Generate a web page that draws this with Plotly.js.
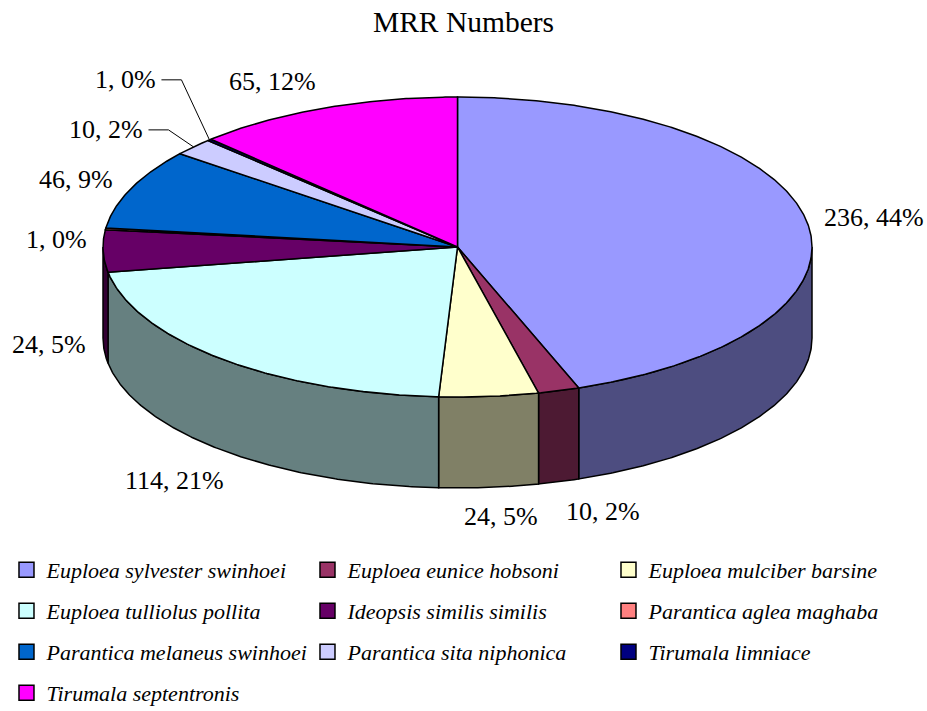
<!DOCTYPE html>
<html>
<head>
<meta charset="utf-8">
<script src="https://cdn.plot.ly/plotly-3.0.1.min.js"></script>
<style>html,body{margin:0;padding:0;background:#fff;}#chart{width:927px;height:711px;}</style>
</head>
<body>
<div id="chart"></div>
<script>
// ---- data ----
const categories = [
  'Euploea sylvester swinhoei',
  'Euploea eunice hobsoni',
  'Euploea mulciber barsine',
  'Euploea tulliolus pollita',
  'Ideopsis similis similis',
  'Parantica aglea maghaba',
  'Parantica melaneus swinhoei',
  'Parantica sita niphonica',
  'Tirumala limniace',
  'Tirumala septentronis'
];
const values = [236, 10, 24, 114, 24, 1, 46, 10, 1, 65];
const faceColors = ['#9999FF', '#993366', '#FFFFCC', '#CCFFFF', '#660066',
                    '#FF8080', '#0066CC', '#CCCCFF', '#000080', '#FF00FF'];
const chartTitle = 'MRR Numbers';

// ---- layout / geometry (not data) ----
const W = 927, H = 711;
const G = {cx: 457.5, cy: 247, rx: 354.5, ry: 150, depth: 91};
// label placement relative to each slice's mid-angle anchor point (pixels)
const labelPlace = [
  {dx: 15, dy: -3, anchor: 'left'},
  {dx: 44, dy: 30, anchor: 'center'},
  {dx: 12, dy: 29, anchor: 'center'},
  {dx: -47, dy: 30, anchor: 'center'},
  {dx: -15, dy: 3, anchor: 'right'},
  {dx: -17, dy: 11, anchor: 'right'},
  {dx: -16, dy: -9, anchor: 'right'},
  {dx: -48, dy: -17, anchor: 'right', leader: true},
  {dx: -51, dy: -60, anchor: 'right', leader: true},
  {dx: -52, dy: -26, anchor: 'center'}
];
const legendCols = 3;
const legendRowY = [570, 611, 652, 693];
const SERIF = 'Liberation Serif, Times New Roman, serif';

function darker(hex) {
  const n = parseInt(hex.slice(1), 16);
  const r = Math.round(((n >> 16) & 255) / 2), g = Math.round(((n >> 8) & 255) / 2), b = Math.round((n & 255) / 2);
  return 'rgb(' + r + ',' + g + ',' + b + ')';
}
function pt(deg, dz) {
  const r = deg * Math.PI / 180;
  return [G.cx + G.rx * Math.cos(r), G.cy - G.ry * Math.sin(r) + (dz || 0)];
}
function arc(a, b, dz) {
  const n = Math.max(2, Math.ceil(Math.abs(a - b) / 0.4) + 1);
  const xs = [], ys = [];
  for (let k = 0; k < n; k++) {
    const p = pt(a + (b - a) * k / (n - 1), dz);
    xs.push(p[0]); ys.push(p[1]);
  }
  return {x: xs, y: ys};
}

const total = values.reduce((s, v) => s + v, 0);
const sideTraces = [];
const topTraces = [];
const annotations = [];
const leaderTraces = [];
let cum = 0;
values.forEach((v, i) => {
  const a1 = 90 - cum / total * 360;
  const a2 = 90 - (cum + v) / total * 360;
  const mid = (a1 + a2) / 2;
  cum += v;
  // top face
  const t = arc(a1, a2, 0);
  topTraces.push({
    type: 'scatter', mode: 'lines', fill: 'toself', fillcolor: faceColors[i],
    x: [G.cx].concat(t.x, [G.cx]), y: [G.cy].concat(t.y, [G.cy]),
    line: {color: '#000', width: 1.5}, showlegend: false, hoverinfo: 'skip'
  });
  // visible outer side wall (front half)
  const hi = Math.min(a1, 0), lo = Math.max(a2, -180);
  if (hi > lo) {
    const up = arc(hi, lo, 0), dn = arc(lo, hi, G.depth);
    sideTraces.push({
      type: 'scatter', mode: 'lines', fill: 'toself', fillcolor: darker(faceColors[i]),
      x: up.x.concat(dn.x, [up.x[0]]), y: up.y.concat(dn.y, [up.y[0]]),
      line: {color: '#000', width: 1.5}, showlegend: false, hoverinfo: 'skip'
    });
  }
  // label
  const rad = mid * Math.PI / 180;
  const front = Math.sin(rad) < 0;
  const anc = pt(mid, front ? G.depth : 0);
  const lp = labelPlace[i];
  const lx = anc[0] + lp.dx, ly = anc[1] + lp.dy;
  annotations.push({
    x: lx, y: ly, xref: 'x', yref: 'y', xanchor: lp.anchor, yanchor: 'middle',
    text: v + ', ' + Math.round(v / total * 100) + '%', showarrow: false,
    font: {family: SERIF, size: 26, color: '#000'}
  });
  if (lp.leader) {
    leaderTraces.push({
      type: 'scatter', mode: 'lines',
      x: [lx + 3, lx + 23, anc[0]], y: [ly, ly, anc[1]],
      line: {color: '#000', width: 1}, showlegend: false, hoverinfo: 'skip'
    });
  }
});

// legend entries (one legend per row so the row spacing matches)
const legendName = r => (r === 0 ? 'legend' : 'legend' + (r + 1));
const legendTraces = categories.map((c, i) => ({
  type: 'scatter', mode: 'markers', x: [null], y: [null], name: c,
  legend: legendName(Math.floor(i / legendCols)),
  marker: {symbol: 'square', size: 15, color: faceColors[i], line: {color: '#000', width: 1.5}},
  hoverinfo: 'skip'
}));

const data = sideTraces.concat(topTraces, leaderTraces, legendTraces);

const layout = {
  width: W, height: H,
  margin: {l: 0, r: 0, t: 0, b: 0, autoexpand: false},
  paper_bgcolor: '#fff', plot_bgcolor: '#fff',
  title: {text: chartTitle, x: 0.5, xanchor: 'center', y: 1 - 22 / H, yanchor: 'middle',
          font: {family: SERIF, size: 29.5, color: '#000'}},
  xaxis: {range: [0, W], visible: false, fixedrange: true},
  yaxis: {range: [H, 0], visible: false, fixedrange: true},
  showlegend: true,
  annotations: annotations,
  hovermode: false
};
legendRowY.forEach((ry, r) => {
  layout[legendName(r)] = {
    orientation: 'h', x: 0.007, xanchor: 'left', y: 1 - ry / H, yanchor: 'middle',
    entrywidth: 256, entrywidthmode: 'pixels', traceorder: 'normal',
    font: {family: SERIF, size: 22, style: 'italic', color: '#000'},
    bgcolor: 'rgba(0,0,0,0)'
  };
});

Plotly.newPlot('chart', data, layout, {staticPlot: true, displayModeBar: false});
</script>
</body>
</html>
